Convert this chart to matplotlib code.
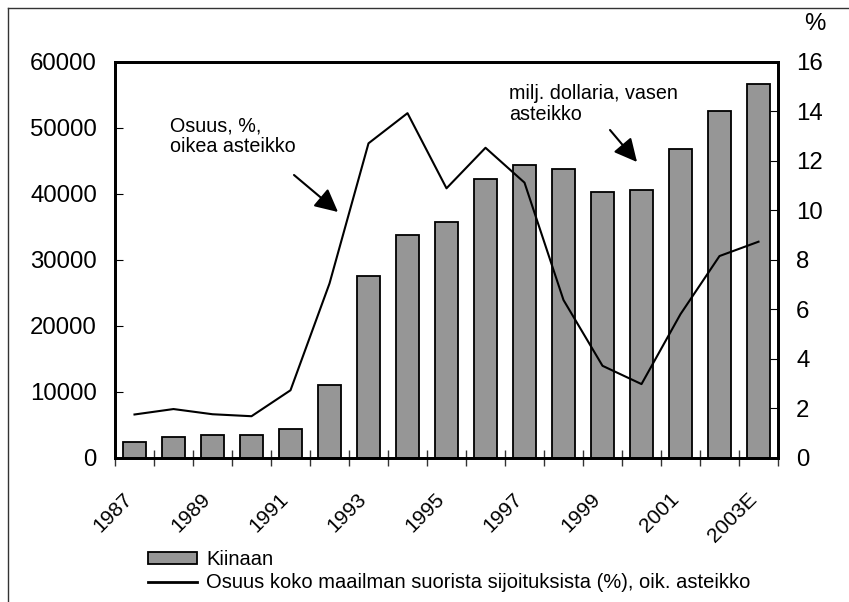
import matplotlib
matplotlib.use('Agg')
import matplotlib.pyplot as plt
import matplotlib.transforms as mtransforms
import numpy as np
from matplotlib.lines import Line2D

plt.rcParams['font.family'] = ['Liberation Sans', 'DejaVu Sans']

years = ['1987', '1988', '1989', '1990', '1991', '1992', '1993', '1994',
         '1995', '1996', '1997', '1998', '1999', '2000', '2001', '2002',
         '2003E']
investments = [2300, 3100, 3400, 3400, 4300, 11000, 27500, 33700, 35700,
               42300, 44300, 43700, 40300, 40600, 46800, 52500, 56700]
share_pct = [1.74, 1.96, 1.75, 1.67, 2.72, 7.04, 12.71, 13.93, 10.89,
             12.53, 11.12, 6.37, 3.71, 2.97, 5.8, 8.15, 8.73]

bar_label = 'Kiinaan'
line_label = 'Osuus koko maailman suorista sijoituksista (%), oik. asteikko'

W, H = 849, 602


def fx(px):
    return px / W


def fy(py):
    return 1 - py / H


fig = plt.figure(figsize=(W / 100, H / 100), dpi=100)
ax = fig.add_axes([fx(115), fy(457.5), (778 - 115) / W, (457.5 - 62) / H])
ax2 = ax.twinx()

x = np.arange(len(years))
ax.bar(x, investments, width=0.6, color='#969696', edgecolor='black',
       linewidth=1.3, zorder=2)
ax2.plot(x, share_pct, color='black', lw=1.5)

ax.set_xlim(-0.5, len(years) - 0.5)
ax.set_ylim(0, 60000)
ax2.set_ylim(0, 16)
ax.set_yticks(np.arange(0, 60001, 10000))
ax2.set_yticks(np.arange(0, 17, 2))

# category labels every second year, rotated
ax.set_xticks([])
ax.set_xticks(np.arange(-0.5, len(years)), minor=True)
ax.tick_params(axis='x', which='minor', direction='inout', length=11,
               width=1, color='#333333')
shift = mtransforms.ScaledTranslation(-0.7 / 72, -30.5 / 72,
                                      fig.dpi_scale_trans)
for i in x[::2]:
    ax.text(i, 0, years[i], transform=ax.get_xaxis_transform() + shift,
            rotation=45, rotation_mode='anchor', ha='right', va='baseline',
            fontsize=15)

ax.tick_params(axis='y', direction='in', length=6, labelsize=17.3, pad=13)
ax2.tick_params(axis='y', direction='in', length=6, labelsize=17.3, pad=13)

for a in (ax, ax2):
    for sp in a.spines.values():
        sp.set_linewidth(2)

fig.text(fx(815), fy(24), '%', fontsize=17.3, ha='center', va='center')

# va='baseline' puts the last line's baseline at y
ax.text(fx(170), fy(152), 'Osuus, %,\noikea asteikko', fontsize=14.2,
        transform=fig.transFigure, va='baseline', linespacing=1.1)
ax.text(fx(509), fy(120), 'milj. dollaria, vasen\nasteikko',
        fontsize=14.2, transform=fig.transFigure, va='baseline',
        linespacing=1.15)

arrow_kw = dict(arrowstyle='-|>,head_length=1.4,head_width=0.7',
                color='black', lw=1.5, shrinkA=0, shrinkB=0)
for start, end in [((294, 175), (338, 212)), ((610, 130), (637, 162))]:
    ax.annotate('', xy=(fx(end[0]), fy(end[1])),
                xytext=(fx(start[0]), fy(start[1])),
                xycoords='figure fraction', textcoords='figure fraction',
                arrowprops=arrow_kw)

# frame lines round the figure (top and left only)
fig.add_artist(Line2D([fx(8), 1], [fy(7.5), fy(7.5)],
                      color='#333333', lw=1))
fig.add_artist(Line2D([fx(8), fx(8)], [0, fy(7.5)],
                      color='#333333', lw=1))

handles = [plt.Rectangle((0, 0), 1, 1, facecolor='#969696',
                         edgecolor='black', lw=1.3),
           Line2D([], [], color='black', lw=2)]
fig.legend(handles, [bar_label, line_label], loc='upper left',
           bbox_to_anchor=(fx(148), fy(550)), frameon=False,
           fontsize=14.5, handlelength=2.45, handleheight=0.55,
           handletextpad=0.45, labelspacing=0.22, borderpad=0,
           borderaxespad=0)

fig.savefig('out.png', dpi=100)
